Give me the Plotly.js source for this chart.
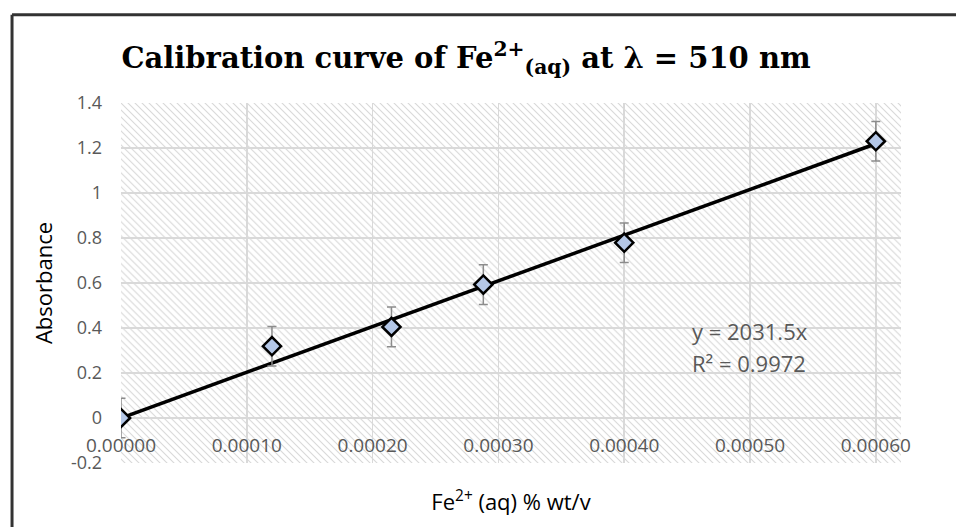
<!DOCTYPE html>
<html>
<head>
<meta charset="utf-8">
<script src="https://cdn.plot.ly/plotly-3.0.1.min.js"></script>
<style>
  html, body { margin: 0; padding: 0; background: #ffffff; }
  #chart { width: 956px; height: 527px; }
</style>
</head>
<body>
<div id="chart"></div>
<script>
// ---- data ----
const concentration = [0, 0.00012, 0.000215, 0.000288, 0.0004, 0.0006];   // Fe2+ (aq) % wt/v
const absorbance    = [0, 0.319, 0.405, 0.593, 0.779, 1.230];
const errorBars     = [0.088, 0.088, 0.088, 0.088, 0.088, 0.088];
const trendSlope    = 2031.5;
const trendR2       = 0.9972;

const xTickVals = [0, 0.0001, 0.0002, 0.0003, 0.0004, 0.0005, 0.0006];
const xTickText = ['0.00000', '0.00010', '0.00020', '0.00030', '0.00040', '0.00050', '0.00060'];
const yTickVals = [-0.2, 0, 0.2, 0.4, 0.6, 0.8, 1, 1.2, 1.4];
const yTickText = ['-0.2', '0', '0.2', '0.4', '0.6', '0.8', '1', '1.2', '1.4'];

// trendline through origin (y = 2031.5x), drawn across the data span
const trendX = [Math.min(...concentration), Math.max(...concentration)];
const trendY = trendX.map(v => trendSlope * v);

// hatched plot-area background (pattern only, no data)
const W = 780, H = 361;
const svg = "<svg xmlns='http://www.w3.org/2000/svg' width='" + W + "' height='" + H + "' viewBox='0 0 " + W + " " + H + "' preserveAspectRatio='none'>" +
  "<defs><pattern id='p' width='7' height='7' patternUnits='userSpaceOnUse'>" +
  "<path d='M-1,-1 L8,8 M-1,6 L1,8 M6,-1 L8,1' stroke='#d8d8d8' stroke-width='1.1'/>" +
  "</pattern></defs><rect x='0' y='0' width='" + W + "' height='" + H + "' fill='url(#p)'/></svg>";
const hatchSrc = 'data:image/svg+xml;charset=utf-8,' + encodeURIComponent(svg);

const traces = [
  {
    x: trendX, y: trendY, type: 'scatter', mode: 'lines',
    line: { color: '#000000', width: 3.5 },
    hoverinfo: 'skip', showlegend: false
  },
  {
    x: concentration, y: absorbance, type: 'scatter', mode: 'markers',
    marker: { symbol: 'diamond', size: 14, color: '#b4c7e7', line: { color: '#000000', width: 2.5 } },
    error_y: { type: 'data', array: errorBars, visible: true, color: '#8c8c8c', thickness: 1.5, width: 4.5 },
    showlegend: false
  }
];

const layout = {
  width: 956, height: 527,
  margin: { l: 121, r: 55, t: 102.5, b: 63.7 },
  paper_bgcolor: '#ffffff',
  plot_bgcolor: '#ffffff',
  showlegend: false,
  title: {
    text: '<b>Calibration curve of Fe<sup>2+</sup><sub>(aq)</sub> at λ = 510 nm</b>',
    font: { family: 'DejaVu Serif', size: 29, color: '#000000', weight: 'bold' },
    xref: 'container', yref: 'container', x: 0.4875, y: 0.89, xanchor: 'center', yanchor: 'middle'
  },
  xaxis: {
    range: [0, 0.00062],
    tickvals: xTickVals, ticktext: xTickText,
    tickfont: { family: 'Open Sans, sans-serif', size: 19, color: '#595959' },
    showgrid: true, gridcolor: '#d9d9d9', gridwidth: 1.5,
    zeroline: false, showline: false, ticks: '',
    anchor: 'free', position: 0.125,
    ticklabelstandoff: 14,
    title: { text: 'Fe<sup>2+</sup> (aq) % wt/v', font: { family: 'Open Sans, sans-serif', size: 22, color: '#000000' }, standoff: 37 },
    automargin: false, fixedrange: true
  },
  yaxis: {
    range: [-0.2, 1.4],
    tickvals: yTickVals, ticktext: yTickText,
    tickfont: { family: 'Open Sans, sans-serif', size: 18, color: '#595959' },
    showgrid: true, gridcolor: '#d9d9d9', gridwidth: 1.5,
    zeroline: false, showline: false, ticks: '',
    ticklabelstandoff: 18,
    title: { text: 'Absorbance', font: { family: 'Open Sans, sans-serif', size: 22, color: '#000000' }, standoff: 12 },
    automargin: false, fixedrange: true
  },
  images: [{
    source: hatchSrc, xref: 'paper', yref: 'paper', x: 0, y: 1, sizex: 1, sizey: 1,
    xanchor: 'left', yanchor: 'top', sizing: 'stretch', layer: 'below'
  }],
  annotations: [
    {
      xref: 'x', yref: 'y', x: 0.000452, y: 0.385, xanchor: 'left', yanchor: 'middle', showarrow: false,
      text: 'y = ' + trendSlope + 'x',
      font: { family: 'Open Sans, sans-serif', size: 22, color: '#595959' }
    },
    {
      xref: 'x', yref: 'y', x: 0.000452, y: 0.246, xanchor: 'left', yanchor: 'middle', showarrow: false,
      text: 'R² = ' + trendR2,
      font: { family: 'Open Sans, sans-serif', size: 22, color: '#595959' }
    }
  ],
  shapes: [
    { type: 'line', xref: 'paper', yref: 'paper', x0: -0.1397, x1: 1.08, y0: 1.2453, y1: 1.2453, line: { color: '#333333', width: 3 }, layer: 'above' },
    { type: 'line', xref: 'paper', yref: 'paper', x0: -0.1397, x1: -0.1397, y0: 1.2453, y1: -0.2, line: { color: '#333333', width: 3 }, layer: 'above' }
  ]
};

Plotly.newPlot('chart', traces, layout, { displayModeBar: false, staticPlot: true });
</script>
</body>
</html>
